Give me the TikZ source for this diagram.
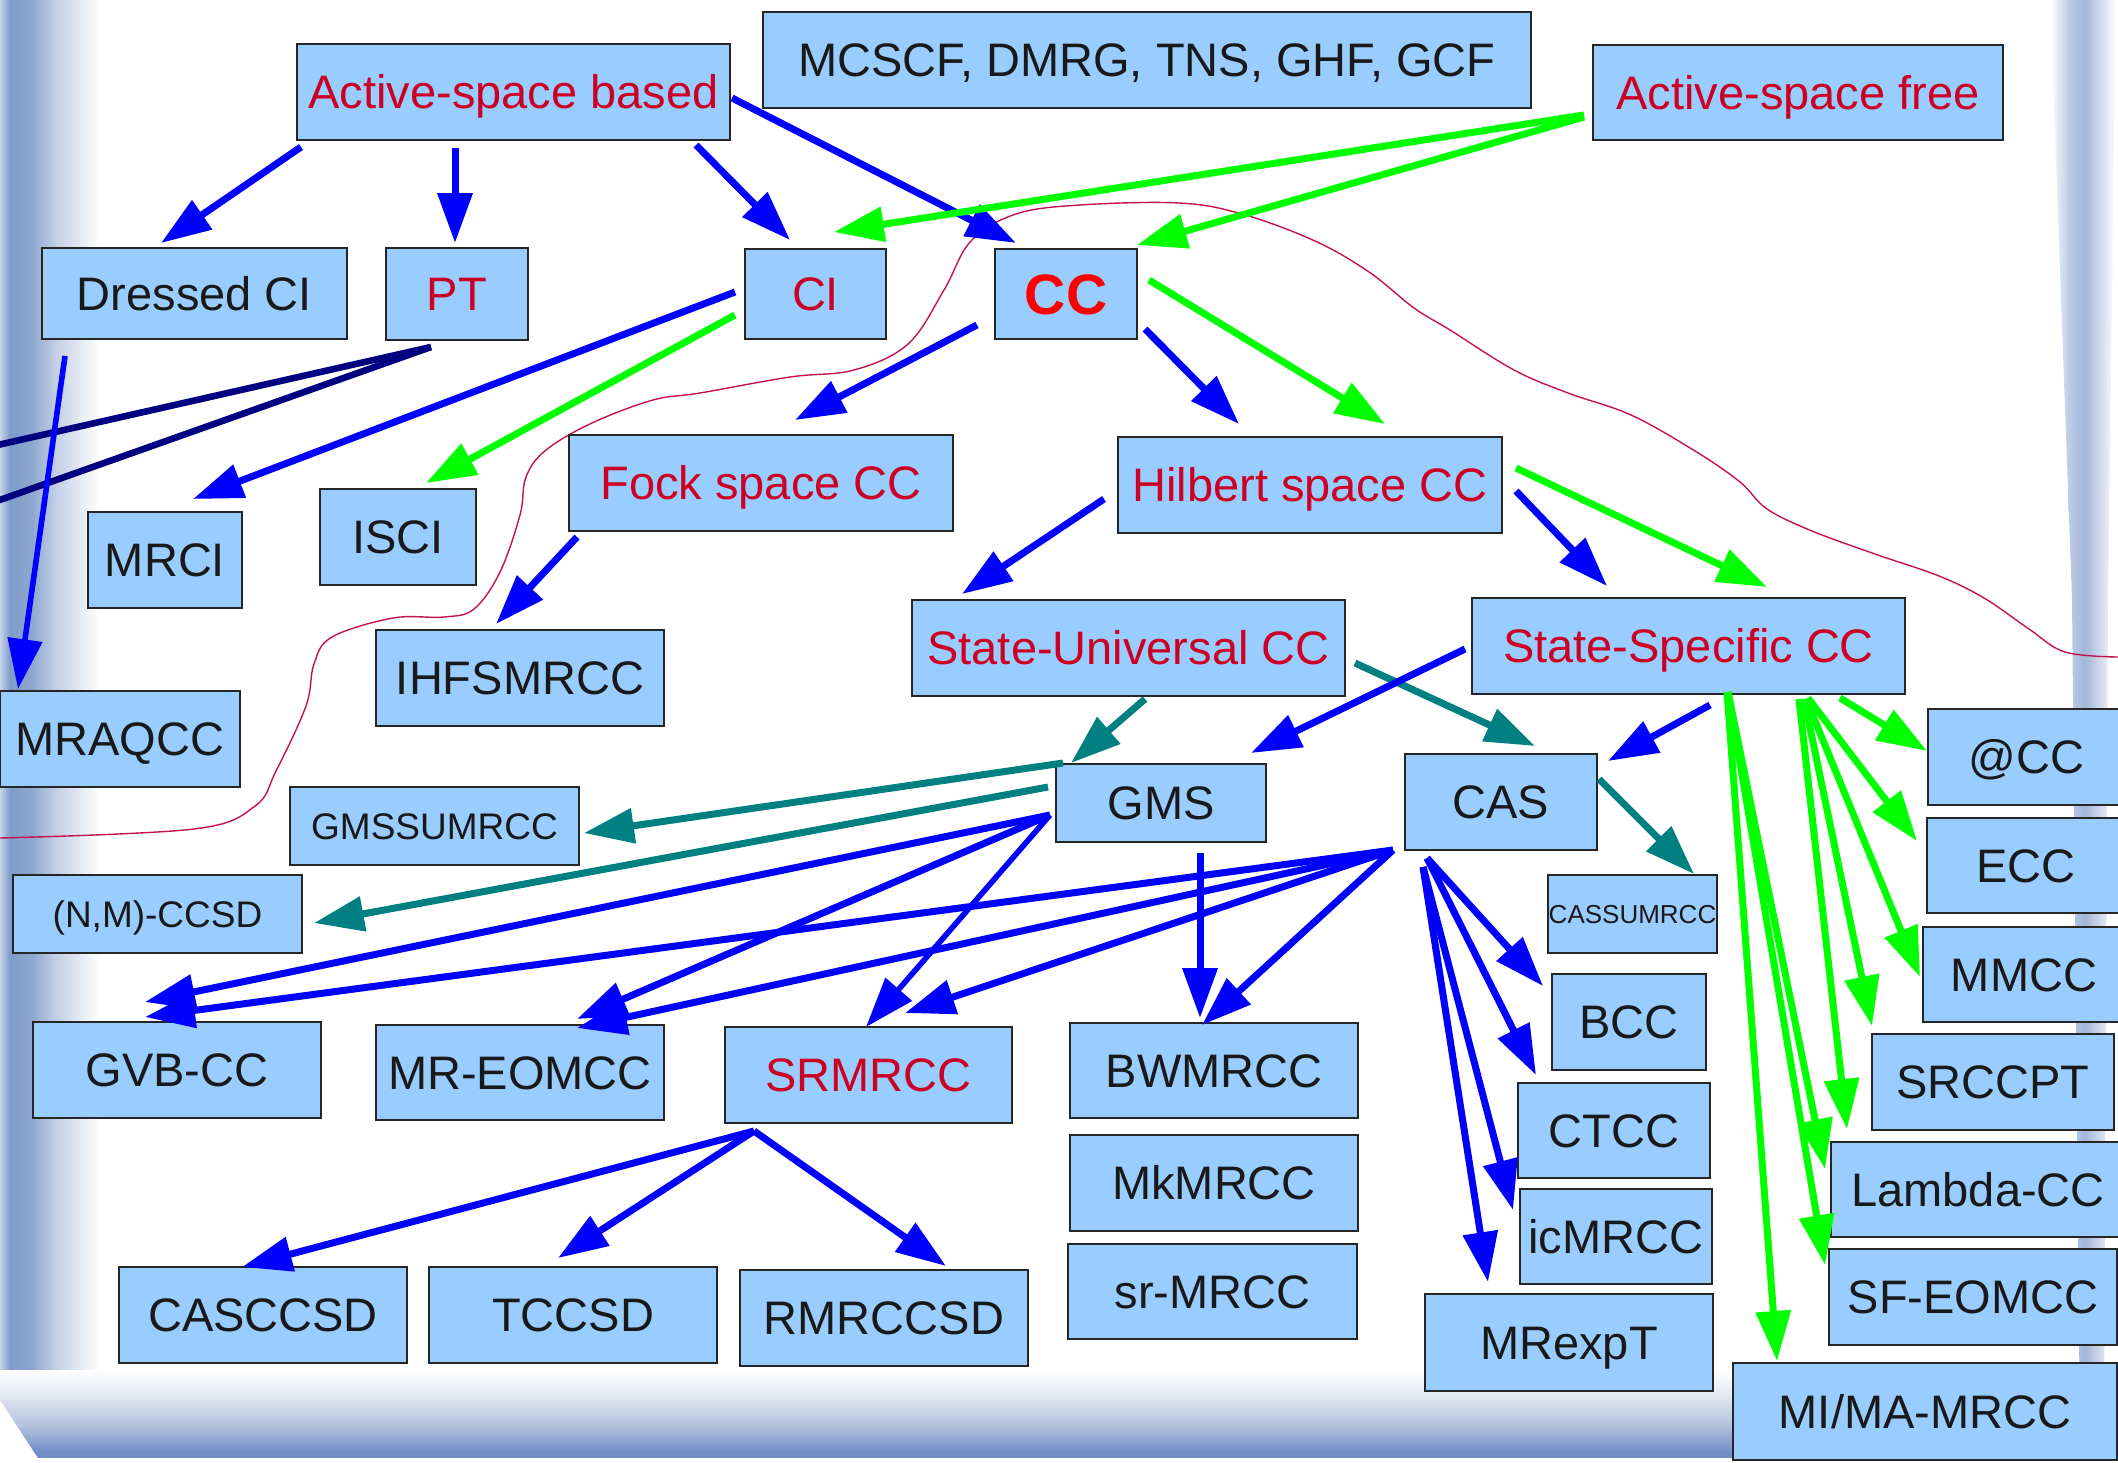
\documentclass[tikz,border=0pt]{standalone}
\usepackage{fontspec}
\setmainfont{Liberation Sans}
\usetikzlibrary{arrows.meta}
\definecolor{boxfill}{HTML}{99CCFF}
\definecolor{tred}{HTML}{CC0022}
\definecolor{cbright}{HTML}{FF0000}
\definecolor{cblue}{HTML}{0000FF}
\definecolor{cgreen}{HTML}{00FF00}
\definecolor{cteal}{HTML}{008080}
\definecolor{cnavy}{HTML}{000080}
\definecolor{ccurve}{HTML}{C4124E}
\definecolor{fA}{HTML}{C8D3E8}
\definecolor{fB}{HTML}{7F9BC9}
\definecolor{fC}{HTML}{8EA7D0}
\definecolor{fD}{HTML}{C7D2E6}
\definecolor{fE}{HTML}{E2E8F2}
\definecolor{fF}{HTML}{B3C3DE}
\definecolor{fG}{HTML}{6F8EC4}
\definecolor{fH}{HTML}{BFCDE6}
\definecolor{fI}{HTML}{A2B6D9}
\newcommand\bx[7]{\node[box,#6,minimum width={(#4-#2)*0.5pt},minimum height={(#5-#3)*0.5pt}] (#1) at ({(#2+#4)/2},{(#3+#5)/2}) {#7};}
\tikzset{
  box/.style={draw=black!85, line width=0.8pt, fill=boxfill, inner sep=0pt, outer sep=0pt, text=black!90,
    font=\fontsize{23.5}{28}\selectfont, text height=16.8pt, text depth=0pt},
  rt/.style={text=tred},
  fsm/.style={font=\fontsize{18.5}{22}\selectfont, text height=13.2pt},
  ftiny/.style={font=\fontsize{13}{16}\selectfont, text height=9.3pt},
  ccst/.style={text=cbright, font=\fontsize{28.5}{32}\selectfont\bfseries, text height=20.4pt},
  con/.style={line width=3.5pt, -{Triangle[length=25pt,width=17pt]}},
  cb/.style={con, color=cblue},
  cg/.style={con, color=cgreen},
  ct/.style={con, color=cteal},
  thinc/.style={line width=2.8pt},
  navyline/.style={line width=3.3pt, color=cnavy}
}
\begin{document}
\begin{tikzpicture}[x=0.5pt,y=-0.5pt]
\useasboundingbox (0,0) rectangle (2118,1462);
\clip (0,0) rectangle (2118,1462);
% frame: left band
\begin{scope}
\clip (0,0) -- (100,0) -- (100,1400) -- (0,1400) -- cycle;
\shade[left color=fA, right color=fB] (0,0) rectangle (10,1462);
\shade[left color=fB, right color=fC] (10,0) rectangle (32,1462);
\shade[left color=fC, right color=fD] (32,0) rectangle (58,1462);
\shade[left color=fD, right color=white] (58,0) rectangle (100,1462);
\end{scope}
% frame: bottom band
\begin{scope}
\clip (0,1370) -- (2118,1370) -- (2118,1458) -- (38,1458) -- (0,1400) -- cycle;
\shade[top color=white, bottom color=fE] (0,1370) rectangle (2118,1395);
\shade[top color=fE, bottom color=fF] (0,1395) rectangle (2118,1425);
\shade[top color=fF, bottom color=fG] (0,1425) rectangle (2118,1452);
\fill[fG] (0,1452) rectangle (2118,1458);
\end{scope}
% frame: right band
\begin{scope}
\clip (2050,0) -- (2116,0) -- (2108,600) -- (2104,1440) -- (2080,1440) -- (2072,600) -- cycle;
\shade[left color=white, right color=fH] (2050,0) rectangle (2068,1462);
\shade[left color=fH, right color=fI] (2068,0) rectangle (2085,1462);
\shade[left color=fI, right color=white] (2085,0) rectangle (2116,1462);
\end{scope}
% boundary curve
\draw[ccurve, line width=0.7pt] plot[smooth, tension=0.6] coordinates {(0,838) (194,829) (255,806) (276,771) (306,706) (314,664) (332,637) (393,618) (444,617) (474,609) (500,572) (520,515) (526,477) (546,450) (592,423) (653,400) (700,393) (790,377) (854,370) (908,344) (944,290) (971,241) (1016,214) (1080,205) (1179,203) (1242,214) (1315,241) (1369,272) (1414,308) (1450,330) (1514,370) (1568,393) (1631,415) (1695,451) (1740,482) (1767,509) (1812,531) (1875,554) (1939,576) (1984,598) (2029,629) (2065,652) (2118,657)};
% nodes
\bx{asb}{297}{44}{730}{140}{rt}{Active-space based}
\bx{mcs}{763}{12}{1531}{108}{}{MCSCF, DMRG, TNS, GHF, GCF}
\bx{asf}{1593}{45}{2003}{140}{rt}{Active-space free}
\bx{dci}{42}{248}{347}{339}{}{Dressed CI}
\bx{pt}{386}{248}{528}{340}{rt}{PT}
\bx{ci}{745}{249}{886}{339}{rt}{CI}
\bx{cc}{995}{249}{1137}{339}{ccst}{CC}
\bx{fock}{569}{435}{953}{531}{rt}{Fock space CC}
\bx{hilb}{1118}{437}{1502}{533}{rt}{Hilbert space CC}
\bx{su}{912}{600}{1345}{696}{rt}{State-Universal CC}
\bx{ss}{1472}{598}{1905}{694}{rt}{State-Specific CC}
\bx{mrci}{88}{512}{242}{608}{}{MRCI}
\bx{isci}{320}{489}{476}{585}{}{ISCI}
\bx{ihf}{376}{630}{664}{726}{}{IHFSMRCC}
\bx{mraq}{0}{691}{240}{787}{}{MRAQCC}
\bx{gmssu}{290}{787}{579}{865}{fsm}{GMSSUMRCC}
\bx{nm}{13}{875}{302}{953}{fsm}{(N,M)-CCSD}
\bx{gvb}{33}{1022}{321}{1118}{}{GVB-CC}
\bx{mreom}{376}{1025}{664}{1120}{}{MR-EOMCC}
\bx{srm}{725}{1027}{1012}{1123}{rt}{SRMRCC}
\bx{casccsd}{119}{1267}{407}{1363}{}{CASCCSD}
\bx{tccsd}{429}{1267}{717}{1363}{}{TCCSD}
\bx{rmr}{740}{1270}{1028}{1366}{}{RMRCCSD}
\bx{gms}{1056}{764}{1266}{842}{}{GMS}
\bx{cas}{1405}{754}{1597}{850}{}{CAS}
\bx{cassu}{1548}{875}{1717}{953}{ftiny}{CASSUMRCC}
\bx{bw}{1070}{1023}{1358}{1118}{}{BWMRCC}
\bx{mk}{1070}{1135}{1358}{1231}{}{MkMRCC}
\bx{srmr}{1068}{1244}{1357}{1339}{}{sr-MRCC}
\bx{bcc}{1552}{974}{1706}{1070}{}{BCC}
\bx{ctcc}{1518}{1083}{1710}{1178}{}{CTCC}
\bx{ic}{1520}{1189}{1712}{1284}{}{icMRCC}
\bx{mrexp}{1425}{1294}{1713}{1391}{}{MRexpT}
\bx{atcc}{1928}{709}{2125}{805}{}{@CC}
\bx{ecc}{1927}{818}{2125}{913}{}{ECC}
\bx{mmcc}{1923}{927}{2125}{1022}{}{MMCC}
\bx{srccpt}{1872}{1034}{2114}{1130}{}{SRCCPT}
\bx{lam}{1831}{1142}{2125}{1237}{}{Lambda-CC}
\bx{sfeom}{1829}{1249}{2117}{1345}{}{SF-EOMCC}
\bx{mima}{1733}{1363}{2117}{1460}{}{MI/MA-MRCC}
% connectors
\draw[cb] ([shift={(4,103)}]asb.north west) -- ([shift={(119,-5)}]dci.north west);
\draw[cb] ([shift={(158,104)}]asb.north west) -- ([shift={(69,-5)}]pt.north west);
\draw[cb] ([shift={(399,101)}]asb.north west) -- ([shift={(45,-9)}]ci.north west);
\draw[cb] ([shift={(435,54)}]asb.north west) -- ([shift={(21,-6)}]cc.north west);
\draw[cg] ([shift={(-9,70)}]asf.north west) -- ([shift={(89,-17)}]ci.north west);
\draw[cg] ([shift={(-9,72)}]asf.north west) -- ([shift={(142,-4)}]cc.north west);
\coordinate (navyA) at (-20,449);
\coordinate (navyB) at (-20,507);
\draw[navyline] ([shift={(45,99)}]pt.north west) -- (navyA);
\draw[navyline] ([shift={(45,99)}]pt.north west) -- (navyB);
\draw[cb,thinc] ([shift={(23,108)}]dci.north west) -- ([shift={(18,-2)}]mraq.north west);
\draw[cb] ([shift={(-10,43)}]ci.north west) -- ([shift={(105,-13)}]mrci.north west);
\draw[cg] ([shift={(-10,66)}]ci.north west) -- ([shift={(106,-6)}]isci.north west);
\draw[cb] ([shift={(-18,76)}]cc.north west) -- ([shift={(226,-15)}]fock.north west);
\draw[cb] ([shift={(150,80)}]cc.north west) -- ([shift={(121,-13)}]hilb.north west);
\draw[cg] ([shift={(154,31)}]cc.north west) -- ([shift={(267,-13)}]hilb.north west);
\draw[cb] ([shift={(8,102)}]fock.north west) -- ([shift={(120,-6)}]ihf.north west);
\draw[cb] ([shift={(-14,62)}]hilb.north west) -- ([shift={(50,-6)}]su.north west);
\draw[cb] ([shift={(398,54)}]hilb.north west) -- ([shift={(135,-12)}]ss.north west);
\draw[cg] ([shift={(398,31)}]hilb.north west) -- ([shift={(295,-11)}]ss.north west);
\draw[ct] ([shift={(233,99)}]su.north west) -- ([shift={(15,-1)}]gms.north west);
\draw[ct] ([shift={(443,63)}]su.north west) -- ([shift={(130,-8)}]cas.north west);
\draw[cb] ([shift={(-7,51)}]ss.north west) -- ([shift={(195,-11)}]gms.north west);
\draw[cb] ([shift={(238,107)}]ss.north west) -- ([shift={(203,7)}]cas.north west);
\draw[cg] ([shift={(368,100)}]ss.north west) -- ([shift={(-1,42)}]atcc.north west);
\draw[cg] ([shift={(336,100)}]ss.north west) -- ([shift={(-10,23)}]ecc.north west);
\draw[cg] ([shift={(334,101)}]ss.north west) -- ([shift={(-3,50)}]mmcc.north west);
\draw[cg] ([shift={(332,101)}]ss.north west) -- ([shift={(0,-8)}]srccpt.north west);
\draw[cg] ([shift={(327,101)}]ss.north west) -- ([shift={(16,-13)}]lam.north west);
\draw[cg] ([shift={(256,94)}]ss.north west) -- ([shift={(-6,27)}]lam.north west);
\draw[cg] ([shift={(256,94)}]ss.north west) -- ([shift={(-4,16)}]sfeom.north west);
\draw[cg] ([shift={(255,94)}]ss.north west) -- ([shift={(44,-2)}]mima.north west);
\draw[ct] ([shift={(7,-1)}]gms.north west) -- ([shift={(294,46)}]gmssu.north west);
\draw[ct] ([shift={(-8,23)}]gms.north west) -- ([shift={(301,48)}]nm.north west);
\draw[cb] ([shift={(-6,51)}]gms.north west) -- ([shift={(112,-20)}]gvb.north west);
\draw[cb] ([shift={(-6,51)}]gms.north west) -- ([shift={(201,-6)}]mreom.north west);
\draw[cb,thinc] ([shift={(-6,51)}]gms.north west) -- ([shift={(141,0)}]srm.north west);
\draw[cb] ([shift={(144,89)}]gms.north west) -- ([shift={(130,-5)}]bw.north west);
\draw[cb] ([shift={(-12,96)}]cas.north west) -- ([shift={(112,-5)}]gvb.north west);
\draw[cb] ([shift={(-12,96)}]cas.north west) -- ([shift={(201,3)}]mreom.north west);
\draw[cb] ([shift={(-12,96)}]cas.north west) -- ([shift={(180,-14)}]srm.north west);
\draw[cb] ([shift={(-12,96)}]cas.north west) -- ([shift={(132,2)}]bw.north west);
\draw[cb] ([shift={(22,104)}]cas.north west) -- ([shift={(-9,12)}]bcc.north west);
\draw[cb] ([shift={(22,104)}]cas.north west) -- ([shift={(18,-8)}]ctcc.north west);
\draw[cb] ([shift={(18,113)}]cas.north west) -- ([shift={(-7,21)}]ic.north west);
\draw[cb] ([shift={(18,113)}]cas.north west) -- ([shift={(63,-12)}]mrexp.north west);
\draw[ct] ([shift={(194,25)}]cas.north west) -- ([shift={(146,-1)}]cassu.north west);
\draw[cb] ([shift={(29,104)}]srm.north west) -- ([shift={(123,0)}]casccsd.north west);
\draw[cb] ([shift={(29,104)}]srm.north west) -- ([shift={(129,-9)}]tccsd.north west);
\draw[cb] ([shift={(29,104)}]srm.north west) -- ([shift={(206,-4)}]rmr.north west);
\end{tikzpicture}
\end{document}
